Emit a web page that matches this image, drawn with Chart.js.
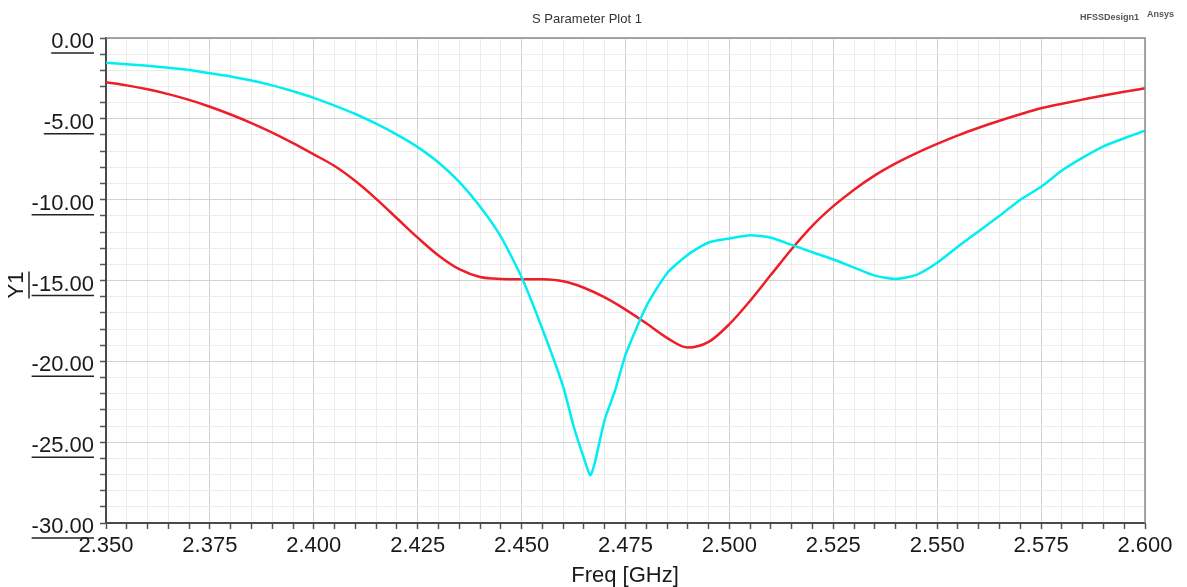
<!DOCTYPE html>
<html>
<head>
<meta charset="utf-8">
<script src="https://cdn.jsdelivr.net/npm/chart.js@4/dist/chart.umd.min.js"></script>
<style>
  html, body { margin: 0; padding: 0; background: #fff; }
  #wrap { width: 1187px; height: 587px; }
</style>
</head>
<body>
<div id="wrap"><canvas id="plot" width="1187" height="587"></canvas></div>
<script>
// frequency grid (GHz), 5 MHz steps
const freq = [
  2.350, 2.355, 2.360, 2.365, 2.370, 2.375, 2.380, 2.385, 2.390, 2.395,
  2.400, 2.405, 2.410, 2.415, 2.420, 2.425, 2.430, 2.435, 2.440, 2.445,
  2.450, 2.455, 2.460, 2.465, 2.470, 2.475, 2.480, 2.485, 2.490, 2.495,
  2.500, 2.505, 2.510, 2.515, 2.520, 2.525, 2.530, 2.535, 2.540, 2.545,
  2.550, 2.555, 2.560, 2.565, 2.570, 2.575, 2.580, 2.585, 2.590, 2.595,
  2.600
]
// red trace (dB)
const s11Red = [
  -2.74, -2.93, -3.17, -3.47, -3.83, -4.25, -4.73, -5.26, -5.85, -6.50,
  -7.20, -7.92, -8.85, -9.95, -11.15, -12.35, -13.45, -14.30, -14.78, -14.90,
  -14.92, -14.93, -15.05, -15.45, -16.05, -16.80, -17.65, -18.55, -19.15, -18.80,
  -17.70, -16.25, -14.65, -13.05, -11.60, -10.40, -9.38, -8.50, -7.76, -7.12,
  -6.55, -6.02, -5.55, -5.12, -4.72, -4.35, -4.07, -3.81, -3.56, -3.33,
  -3.11
]
// cyan trace, extra points around the dip
const freqCyan = [
  2.350, 2.355, 2.360, 2.365, 2.370, 2.375, 2.380, 2.385, 2.390, 2.395,
  2.400, 2.405, 2.410, 2.415, 2.420, 2.425, 2.430, 2.435, 2.440, 2.445,
  2.450, 2.455, 2.460, 2.4625, 2.465, 2.4665, 2.4675, 2.470, 2.4725, 2.475,
  2.480, 2.485, 2.490, 2.495, 2.500, 2.505, 2.510, 2.515, 2.520, 2.525,
  2.530, 2.535, 2.540, 2.545, 2.550, 2.555, 2.560, 2.565, 2.570, 2.575,
  2.580, 2.585, 2.590, 2.595, 2.600
]
const s11Cyan = [
  -1.53, -1.62, -1.72, -1.84, -1.98, -2.18, -2.38, -2.63, -2.93, -3.29,
  -3.70, -4.18, -4.70, -5.30, -5.98, -6.75, -7.70, -8.90, -10.43, -12.29,
  -14.80, -18.00, -21.56, -24.00, -26.00, -27.05, -26.40, -23.60, -21.80, -19.60,
  -16.60, -14.55, -13.40, -12.65, -12.40, -12.20, -12.35, -12.80, -13.25, -13.70,
  -14.20, -14.70, -14.90, -14.65, -13.90, -12.90, -11.95, -11.00, -10.00, -9.20,
  -8.20, -7.40, -6.70, -6.20, -5.73
]

const isMult = (v, step) => Math.abs(Math.round(v / step) * step - v) < 1e-6

const LABEL_FONT = { family: 'Liberation Sans, Arial, sans-serif', size: 22 }

const decorations = {
  id: 'decorations',
  afterDraw (chart) {
    const ctx = chart.ctx
    const area = chart.chartArea
    const y = chart.scales.y
    ctx.save()
    // top and right frame
    ctx.strokeStyle = '#8a8a8a'
    ctx.lineWidth = 1.5
    ctx.beginPath()
    ctx.moveTo(area.left, area.top)
    ctx.lineTo(area.right, area.top)
    ctx.lineTo(area.right, area.bottom)
    ctx.stroke()

    // underline y tick labels
    ctx.font = '22px Liberation Sans, Arial, sans-serif'
    ctx.strokeStyle = '#222'
    ctx.lineWidth = 1.5
    const rightEdge = area.left - 12
    for (const t of y.ticks) {
      if (!isMult(t.value, 5)) continue
      const label = t.value.toFixed(2)
      const w = ctx.measureText(label).width
      const py = y.getPixelForValue(t.value) + 15
      ctx.beginPath()
      ctx.moveTo(rightEdge - w, py)
      ctx.lineTo(rightEdge, py)
      ctx.stroke()
    }

    // titles
    ctx.fillStyle = '#333'
    ctx.textAlign = 'center'
    ctx.textBaseline = 'middle'
    ctx.font = '13px Liberation Sans, Arial, sans-serif'
    ctx.fillText('S Parameter Plot 1', 587, 19)

    ctx.fillStyle = '#555'
    ctx.textAlign = 'left'
    ctx.font = 'bold 9px Liberation Sans, Arial, sans-serif'
    ctx.fillText('HFSSDesign1', 1080, 18)
    ctx.fillText('Ansys', 1147, 15)

    ctx.fillStyle = '#1a1a1a'
    ctx.textAlign = 'center'
    ctx.font = '22px Liberation Sans, Arial, sans-serif'
    ctx.fillText('Freq [GHz]', 625, 576)

    // Y1, rotated with underline
    ctx.translate(17, 285)
    ctx.rotate(-Math.PI / 2)
    ctx.fillText('Y1', 0, 0)
    const yw = ctx.measureText('Y1').width
    ctx.beginPath()
    ctx.moveTo(-yw / 2, 12)
    ctx.lineTo(yw / 2, 12)
    ctx.stroke()
    ctx.restore()
  }
}

new Chart(document.getElementById('plot'), {
  type: 'line',
  data: {
    datasets: [
      {
        label: 'cyan',
        data: freqCyan.map((f, i) => ({ x: f, y: s11Cyan[i] })),
        borderColor: 'rgb(0, 238, 242)',
        borderWidth: 2.5,
        pointRadius: 0,
        tension: 0.2
      },
      {
        label: 'red',
        data: freq.map((f, i) => ({ x: f, y: s11Red[i] })),
        borderColor: 'rgb(238, 30, 40)',
        borderWidth: 2.5,
        pointRadius: 0,
        cubicInterpolationMode: 'monotone'
      }
    ]
  },
  options: {
    responsive: false,
    animation: false,
    layout: { padding: { top: 38, right: 42, left: 0, bottom: 0 } },
    plugins: {
      legend: { display: false },
      tooltip: { enabled: false }
    },
    scales: {
      x: {
        type: 'linear',
        min: 2.35,
        max: 2.6,
        afterFit: (scale) => { scale.height = 64 },
        border: { display: true, color: '#4a4a4a', width: 2 },
        grid: {
          color: (ctx) => isMult(ctx.tick.value, 0.025) ? '#d2d2d2' : '#ececec',
          lineWidth: 1,
          tickColor: '#555',
          tickLength: 6,
          tickWidth: 1.5
        },
        ticks: {
          stepSize: 0.005,
          autoSkip: false,
          maxRotation: 0,
          padding: 4,
          color: '#1a1a1a',
          font: LABEL_FONT,
          callback: (v) => isMult(v, 0.025) ? v.toFixed(3) : ''
        }
      },
      y: {
        min: -30,
        max: 0,
        afterFit: (scale) => { scale.width = 106 },
        border: { display: true, color: '#4a4a4a', width: 2 },
        grid: {
          color: (ctx) => isMult(ctx.tick.value, 5) ? '#d2d2d2' : '#ececec',
          lineWidth: 1,
          tickColor: '#555',
          tickLength: 6,
          tickWidth: 1.5
        },
        ticks: {
          stepSize: 1,
          autoSkip: false,
          padding: 6,
          labelOffset: 4,
          color: '#1a1a1a',
          font: LABEL_FONT,
          callback: (v) => isMult(v, 5) ? v.toFixed(2) : ''
        }
      }
    }
  },
  plugins: [decorations]
})
</script>
</body>
</html>
